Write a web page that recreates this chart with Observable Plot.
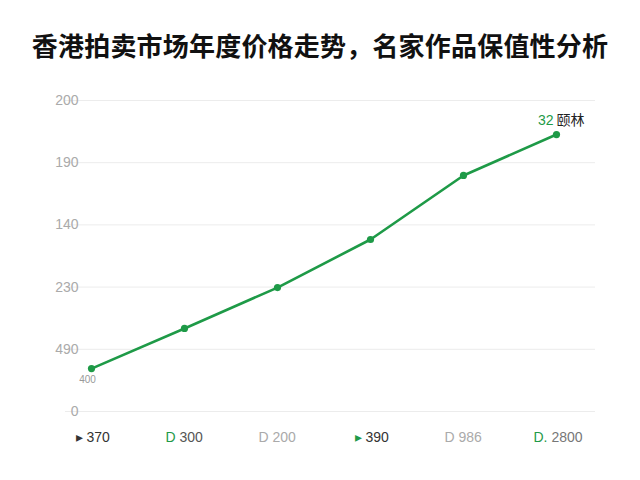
<!DOCTYPE html>
<html><head><meta charset="utf-8">
<script src="https://cdn.jsdelivr.net/npm/d3@7"></script>
<script src="https://cdn.jsdelivr.net/npm/@observablehq/plot@0.6"></script>
<style>
body{margin:0;background:#fff;font-family:"Noto Sans CJK SC","Noto Sans",sans-serif;}
#title{height:80px;display:flex;align-items:center;justify-content:center;padding-top:8px;box-sizing:border-box;font-size:26px;font-weight:700;color:#111;letter-spacing:0.2px;white-space:nowrap;}
</style></head><body>
<div id="title">香港拍卖市场年度价格走势，名家作品保值性分析</div>
<div id="chart"></div>
<script>
const categories = ["370", "300", "200", "390", "986", "2800"];
const prefixes = ["▸", "D", "D", "▸", "D", "D."];
const values = [27.6, 53.4, 79.7, 110.6, 151.8, 178.1];
const yTicks = [0, 40, 80, 120, 160, 200];
const yTickLabels = ["0", "490", "230", "140", "190", "200"];
const prefixColors = ["#333", "#1f9a48", "#aaa", "#1f9a48", "#aaa", "#1f9a48"];
const numberColors = ["#333", "#555", "#aaa", "#333", "#aaa", "#777"];
const startLabel = "400";
const endNumber = "32";
const endName = "颐林";

const data = categories.map((c, i) => ({c, v: values[i], p: prefixes[i], pc: prefixColors[i], nc: numberColors[i]}));
const green = "#1e9a47";

const chart = Plot.plot({
  width: 640,
  height: 400,
  marginTop: 20,
  marginBottom: 69,
  marginLeft: 65,
  marginRight: 45,
  style: {fontFamily: "'Liberation Sans','Noto Sans CJK SC',sans-serif", background: "#fff"},
  x: {type: "point", domain: categories, padding: 0.32, align: 0.4, axis: null},
  y: {domain: [0, 200], axis: null},
  marks: [
    Plot.ruleY(yTicks, {stroke: "#ececec", strokeWidth: 1}),
    Plot.text(yTicks, {x: () => categories[0], y: d => d, text: (d, i) => yTickLabels[i], frameAnchor: "left", textAnchor: "end", dx: -13, fill: "#aaa", fontSize: 14}),
    Plot.line(data, {x: "c", y: "v", stroke: green, strokeWidth: 2.6}),
    Plot.dot(data, {x: "c", y: "v", fill: green, r: 3.6}),
    Plot.text(data, {x: "c", text: "p", fill: "pc", frameAnchor: "bottom", dy: 30, dx: -9, textAnchor: "end", fontSize: 14}),
    Plot.text(data, {x: "c", text: "c", fill: "nc", frameAnchor: "bottom", dy: 30, dx: -5, textAnchor: "start", fontSize: 14}),
    Plot.text([data[0]], {x: "c", y: "v", text: () => startLabel, dy: 11, dx: -4, fill: "#999", fontSize: 10}),
    Plot.text([data[5]], {x: "c", y: "v", text: () => endNumber, dy: -14, dx: -3, textAnchor: "end", fill: green, fontSize: 14}),
    Plot.text([data[5]], {x: "c", y: "v", text: () => endName, dy: -14, dx: 0, textAnchor: "start", fill: "#222", fontSize: 14, fontFamily: "'Noto Sans CJK SC',sans-serif"})
  ]
});
document.getElementById("chart").appendChild(chart);
</script>
</body></html>
